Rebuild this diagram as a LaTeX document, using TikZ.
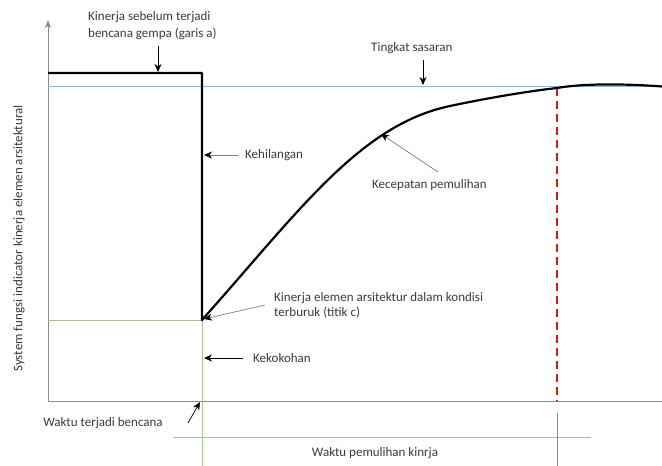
\documentclass[tikz,border=0pt]{standalone}
\usepackage{fontspec}
\setmainfont{Carlito}
\usetikzlibrary{arrows.meta}
\definecolor{axisgray}{HTML}{8C8C8C}
\definecolor{targetblue}{HTML}{8DB8E6}
\definecolor{guidegreen}{HTML}{A8BF94}
\definecolor{recred}{HTML}{D7191C}
\definecolor{txtgray}{HTML}{3A3A3A}
\begin{document}
\begin{tikzpicture}[x=1pt,y=-1pt,
  lbl/.style={text=txtgray, inner sep=0pt, align=left, font=\fontsize{13}{17}\selectfont},
  axisline/.style={draw=axisgray, line width=0.9pt},
  perf/.style={draw=black, line width=2.2pt, line join=round},
  target/.style={draw=targetblue, line width=0.8pt},
  guide/.style={draw=guidegreen, line width=0.8pt},
  tickgray/.style={draw=axisgray, line width=0.8pt},
  recov/.style={draw=recred, line width=2.2pt, dash pattern=on 8pt off 5pt},
  blackarrow/.style={draw=black, line width=0.7pt, -{Stealth[length=8pt,width=7pt,inset=2.5pt]}},
  grayarrow/.style={draw=gray, line width=0.7pt, -{Stealth[length=8pt,width=7pt,inset=2.5pt,color=black]}}]
\useasboundingbox (0,0) rectangle (662,466);

% axes
\coordinate (O) at (48,401.5);
\coordinate (Ytop) at (48,20);
\coordinate (Xend) at (662,401.5);
\draw[axisline, -{Stealth[length=8pt,width=6pt,inset=2pt]}] (O) -- (Ytop);
\draw[axisline] (O) -- (Xend);

% target line
\coordinate (T0) at (48,86);
\coordinate (T1) at (662,86);
\draw[target] (T0) -- (T1);

% green guide lines
\coordinate (C) at (202,320);
\coordinate (G0) at (48,320);
\coordinate (Gb) at (202,466);
\draw[guide] (G0) -- (C);
\draw[guide] (C) -- (Gb);
\coordinate (H0) at (173,437);
\coordinate (H1) at (591,437);
\draw[guide] (H0) -- (H1);
\coordinate (R0) at (557,413);
\coordinate (R1) at (557,466);
\draw[tickgray] (R0) -- (R1);

% red dashed recovery time line
\coordinate (Rt) at (557,88);
\coordinate (Rb) at (557,401);
\draw[recov] (Rt) -- (Rb);

% performance curve
\coordinate (A0) at (48,73);
\coordinate (A1) at (202,73);
\coordinate (M1) at (450,106);
\coordinate (E) at (662,86.5);
\draw[perf] (A0) -- (A1) -- (C)
  .. controls (300,210) and (360,125) .. (M1)
  .. controls (490,97.5) and (530,91) .. (Rt)
  .. controls (585,83) and (630,84) .. (E);

% labels
\node[lbl, anchor=west] (la) at (88,26) {Kinerja sebelum terjadi\\bencana gempa (garis a)};
\coordinate (la0) at (158,46);
\coordinate (la1) at (158,72);
\draw[blackarrow] (la0) -- (la1);

\node[lbl, anchor=west] (lt) at (371,48) {Tingkat sasaran};
\coordinate (lt0) at (423,60);
\coordinate (lt1) at (423,85);
\draw[blackarrow] (lt0) -- (lt1);

\node[lbl, anchor=west] (lk) at (245,155) {Kehilangan};
\coordinate (lk0) at (238,155);
\coordinate (lk1) at (204,155);
\draw[grayarrow] (lk0) -- (lk1);

\node[lbl, anchor=west] (lv) at (372,185) {Kecepatan pemulihan};
\coordinate (lv0) at (438,172);
\coordinate (lv1) at (381,134);
\draw[grayarrow] (lv0) -- (lv1);

\node[lbl, anchor=west] (lc) at (274,305.5) {Kinerja elemen arsitektur dalam kondisi\\[-2pt]terburuk (titik c)};
\coordinate (lc0) at (265,305);
\coordinate (lc1) at (204,319);
\draw[grayarrow] (lc0) -- (lc1);

\node[lbl, anchor=west] (lr) at (253,358) {Kekokohan};
\coordinate (lr0) at (243,358);
\coordinate (lr1) at (204,358);
\draw[blackarrow] (lr0) -- (lr1);

\node[lbl, anchor=center] (lw) at (103,423) {Waktu terjadi bencana};
\coordinate (lw0) at (188,423);
\coordinate (lw1) at (200,402);
\draw[blackarrow] (lw0) -- (lw1);

\node[lbl, anchor=center] (lp) at (375,453) {Waktu pemulihan kinrja};

\node[lbl, anchor=center, rotate=90] (ly) at (19,238.5) {System fungsi indicator kinerja elemen arsitektural};
\end{tikzpicture}
\end{document}
